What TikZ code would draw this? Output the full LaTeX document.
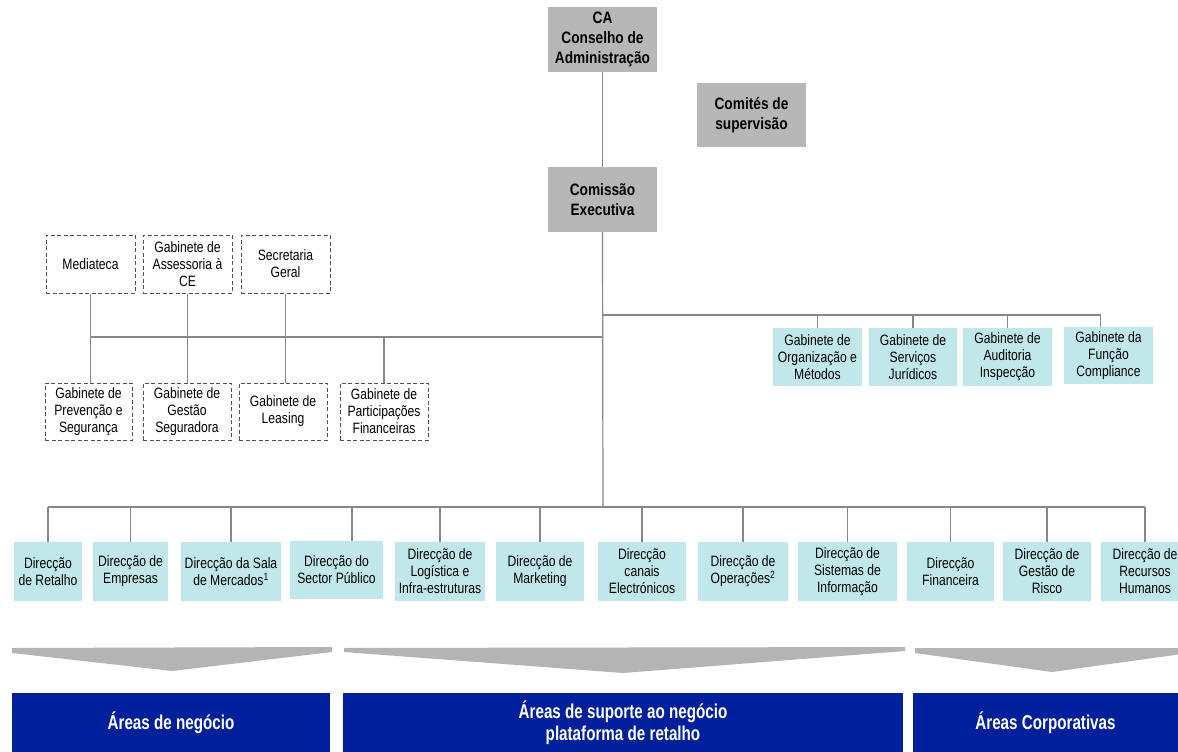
\documentclass[tikz,border=0pt]{standalone}
\usepackage{fontspec}
\setmainfont{Liberation Sans}[FakeStretch=0.81]
\newfontfamily\boldfont{Liberation Sans}[FakeStretch=0.83]
\newfontfamily\bannerfont{Liberation Sans}[FakeStretch=0.76]
\usetikzlibrary{calc}
\definecolor{boxgray}{RGB}{183,183,183}
\definecolor{boxteal}{RGB}{192,231,233}
\definecolor{linegray}{RGB}{135,135,135}
\definecolor{arrowgray}{RGB}{180,180,180}
\definecolor{bannerblue}{RGB}{0,32,155}
\definecolor{dashgray}{RGB}{80,80,80}
\tikzset{
  base/.style={inner sep=1pt, align=center, font=\fontsize{15}{17}\selectfont},
  graybox/.style={base, fill=boxgray, font=\boldfont\bfseries\fontsize{16.5}{20}\selectfont, minimum width=109pt},
  dashbox/.style={base, draw=dashgray, dash pattern=on 4pt off 2.5pt, line width=1pt, fill=white, minimum height=58pt},
  tealbox/.style={base, fill=boxteal, minimum height=58pt},
  dirbox/.style={base, fill=boxteal, minimum height=59pt},
  conn/.style={draw=linegray, line width=1.2pt},
  chevron/.style={fill=arrowgray},
  banner/.style={fill=bannerblue, text=white, align=center, inner sep=0pt, minimum height=60pt, font=\bannerfont\bfseries\fontsize{20}{22.5}\selectfont}
}
\begin{document}
\begin{tikzpicture}[x=1pt, y=-1pt]
\clip (0,0) rectangle (1178,752);
\fill[white] (0,0) rectangle (1178,752);

% top governance
\node[graybox, minimum height=65pt] (ca) at (602.5,39.5) {CA\\Conselho de\\Administração};
\node[graybox, minimum height=64pt] (com) at (751.5,115) {Comités de\\supervisão};
\node[graybox, minimum height=65pt] (ce) at (602.5,199.5) {Comissão\\Executiva};

% dashed gabinetes
\node[dashbox, minimum width=89pt] (med) at (90.5,264) {Mediateca};
\node[dashbox, minimum width=89pt] (ass) at (187.5,264) {Gabinete de\\Assessoria à\\CE};
\node[dashbox, minimum width=89pt] (sec) at (285.5,264) {Secretaria\\Geral};
\node[dashbox, minimum width=87pt, minimum height=57pt] (prev) at (88.5,411.5) {Gabinete de\\Prevenção e\\Segurança};
\node[dashbox, minimum width=88pt, minimum height=57pt] (gest) at (187,411.5) {Gabinete de\\Gestão\\Seguradora};
\node[dashbox, minimum width=88pt, minimum height=57pt] (leas) at (283,411.5) {Gabinete de\\Leasing};
\node[dashbox, minimum width=88pt, minimum height=57pt] (part) at (384,411.5) {Gabinete de\\Participações\\Financeiras};

% right gabinetes
\node[tealbox, minimum width=89pt] (org) at (817.5,357) {Gabinete de\\Organização e\\Métodos};
\node[tealbox, minimum width=88pt] (serv) at (913,357) {Gabinete de\\Serviços\\Jurídicos};
\node[tealbox, minimum width=89pt] (aud) at (1007.5,357) {Gabinete de\\Auditoria\\Inspecção};
\node[tealbox, minimum width=89pt, minimum height=57pt] (comp) at (1108.5,355.5) {Gabinete da\\Função\\Compliance};

% direcções
\node[dirbox, minimum width=68pt] (ret) at (48,571.5) {Direcção\\de Retalho};
\node[dirbox, minimum width=75pt] (emp) at (130.5,571.5) {Direcção de\\Empresas};
\node[dirbox, minimum width=100pt] (sala) at (231,571.5) {Direcção da Sala\\de Mercados\textsuperscript{1}};
\node[dirbox, minimum width=93pt, minimum height=58pt] (sp) at (336.5,570) {Direcção do\\Sector Público};
\node[dirbox, minimum width=90pt] (log) at (440,571.5) {Direcção de\\Logística e\\Infra-estruturas};
\node[dirbox, minimum width=88pt] (mkt) at (540,571.5) {Direcção de\\Marketing};
\node[dirbox, minimum width=88pt] (can) at (642,571.5) {Direcção\\canais\\Electrónicos};
\node[dirbox, minimum width=90pt] (ope) at (743,571.5) {Direcção de\\Operações\textsuperscript{2}};
\node[dirbox, minimum width=99pt] (sis) at (847.5,571.5) {Direcção de\\Sistemas de\\Informação};
\node[dirbox, minimum width=87pt] (fin) at (950.5,571.5) {Direcção\\Financeira};
\node[dirbox, minimum width=88pt] (ris) at (1047,571.5) {Direcção de\\Gestão de\\Risco};
\node[dirbox, minimum width=88pt] (rh) at (1145,571.5) {Direcção de\\Recursos\\Humanos};

% hubs
\coordinate (hubR) at (603,315);
\coordinate (hubL) at (603,337);
\coordinate (hubB) at (603,507);
\coordinate (compdrop) at ($(comp.north)+(-8,0)$);
\coordinate (spdrop) at ($(sp.north)+(15.5,0)$);

% connectors
\draw[conn] (ca) -- (ce);
\draw[conn] (ce.south) -- (hubB);

\draw[conn] (hubR) -- (hubR -| compdrop) -- (compdrop);
\foreach \n in {org,serv,aud} \draw[conn] (hubR -| \n.north) -- (\n.north);

\draw[conn] (hubL) -- (hubL -| med.south);
\draw[conn] (med.south) -- (med.south |- prev.north);
\draw[conn] (ass.south) -- (ass.south |- gest.north);
\draw[conn] (sec.south) -- (sec.south |- leas.north);
\draw[conn] (hubL -| part.north) -- (part.north);

\draw[conn] (hubB -| ret.north) -- (hubB -| rh.north);
\foreach \n in {ret,emp,sala,log,mkt,can,ope,sis,fin,ris,rh} \draw[conn] (hubB -| \n.north) -- (\n.north);
\draw[conn] (hubB -| spdrop) -- (spdrop);

% chevrons
\fill[chevron] (12,648) -- (332,647) -- (332,652) -- (172,671) -- (12,653) -- cycle;
\fill[chevron] (344,648) -- (905,647) -- (905,651) -- (623,673) -- (344,652) -- cycle;
\fill[chevron] (915,648) -- (1189,648) -- (1189,653) -- (1052,672) -- (915,653) -- cycle;

% banners
\node[banner, minimum width=318pt] (b1) at (171,722.5) {Áreas de negócio};
\node[banner, minimum width=560pt] (b2) at (623,722.5) {Áreas de suporte ao negócio\\plataforma de retalho};
\node[banner, minimum width=265pt] (b3) at (1045.5,722.5) {Áreas Corporativas};
\end{tikzpicture}
\end{document}
